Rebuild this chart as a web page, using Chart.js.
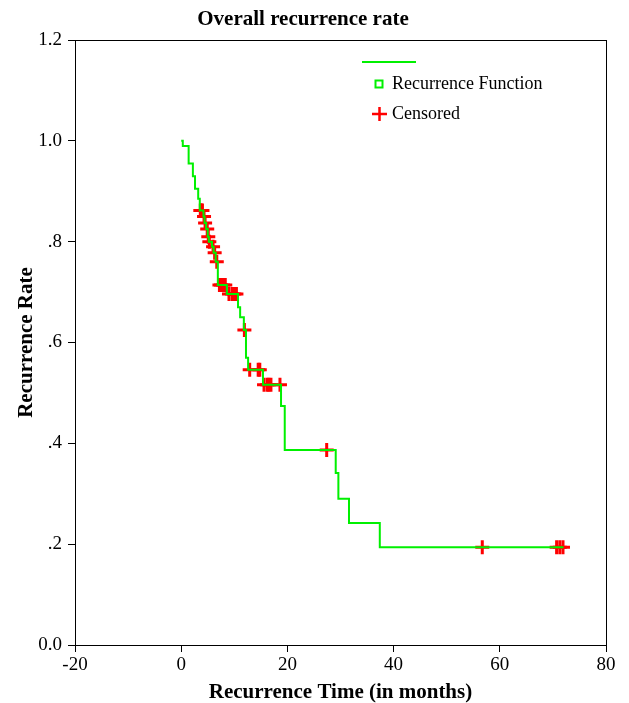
<!DOCTYPE html>
<html>
<head>
<meta charset="utf-8">
<script src="https://cdn.jsdelivr.net/npm/chart.js@4"></script>
<style>
  html, body { margin: 0; padding: 0; background: #fff; }
  #wrap { width: 629px; height: 703px; }
</style>
</head>
<body>
<div id="wrap"><canvas id="chart" width="629" height="703"></canvas></div>
<script>
// step function (time in months, rate after the step)
const stepTimes = [0, 0.3, 1.4, 2.2, 2.6, 3.2, 3.5, 4.2, 4.4, 4.7, 5.0, 5.2, 5.8, 6.1, 6.5, 6.9, 8.6,
    10.7, 11.1, 11.8, 12.2, 12.6, 15.4, 18.8, 19.5, 29.1, 29.6, 31.6, 37.4, 72.0];
const stepRates = [1.0, 0.99, 0.955, 0.93, 0.905, 0.885, 0.862, 0.85, 0.837, 0.825, 0.81, 0.80, 0.79, 0.778, 0.76, 0.714, 0.696,
    0.67, 0.65, 0.625, 0.57, 0.546, 0.516, 0.474, 0.387, 0.341, 0.29, 0.242, 0.194, 0.194];

// censored observations
const censTimes = [3.6, 3.8, 4.0, 4.3, 4.5, 4.9, 5.1, 5.3, 6.0, 6.3, 6.7, 7.2, 7.5, 7.9, 8.3,
    9.0, 9.6, 10.0, 10.4, 11.9, 12.9, 14.5, 14.8, 15.6, 16.2, 16.5, 16.9, 18.6, 27.4, 56.7, 70.7, 71.3, 71.9];
const censRates = [0.862, 0.862, 0.862, 0.85, 0.837, 0.825, 0.81, 0.80, 0.79, 0.778, 0.76, 0.714, 0.714, 0.714, 0.714,
    0.696, 0.696, 0.696, 0.696, 0.625, 0.546, 0.546, 0.546, 0.516, 0.516, 0.516, 0.516, 0.516, 0.387, 0.194, 0.194, 0.194, 0.194];

const xTicks = [-20, 0, 20, 40, 60, 80];
const yTickLabels = {0: '0.0', 0.2: '.2', 0.4: '.4', 0.6: '.6', 0.8: '.8', 1: '1.0', 1.2: '1.2'};

const serif = "'Liberation Serif', 'Times New Roman', serif";
const green = 'rgb(0, 240, 0)';
const red = 'rgb(255, 0, 0)';

let stepData = [];
for (let i = 0; i < stepTimes.length; i++) {
    stepData.push({x: stepTimes[i], y: stepRates[i]});
}
let censData = [];
for (let i = 0; i < censTimes.length; i++) {
    censData.push({x: censTimes[i], y: censRates[i]});
}

// frame around plot + hand drawn legend
const framePlugin = {
    id: 'frame',
    afterDraw(chart) {
        const ctx = chart.ctx;
        const a = chart.chartArea;
        ctx.save();
        ctx.strokeStyle = '#000';
        ctx.lineWidth = 1;
        ctx.strokeRect(a.left + 0.5, a.top + 0.5, a.right - a.left, a.bottom - a.top);

        ctx.strokeStyle = green;
        ctx.lineWidth = 2;
        ctx.beginPath();
        ctx.moveTo(362, 62);
        ctx.lineTo(416, 62);
        ctx.stroke();
        ctx.strokeRect(375.5, 80.5, 7, 7);

        ctx.strokeStyle = red;
        ctx.lineWidth = 2.5;
        ctx.beginPath();
        ctx.moveTo(372, 114);
        ctx.lineTo(387, 114);
        ctx.moveTo(379.5, 107);
        ctx.lineTo(379.5, 121);
        ctx.stroke();

        ctx.fillStyle = '#000';
        ctx.font = '18px ' + serif;
        ctx.textBaseline = 'middle';
        ctx.fillText('Recurrence Function', 392, 84);
        ctx.fillText('Censored', 392, 114);
        ctx.restore();
    }
};

const ctx = document.getElementById('chart').getContext('2d');
const chart = new Chart(ctx, {
    type: 'scatter',
    data: {
        datasets: [{
            label: 'Recurrence Function',
            data: stepData,
            showLine: true,
            stepped: true,
            borderColor: green,
            borderWidth: 2,
            pointRadius: 0,
            fill: false
        }, {
            label: 'Censored',
            data: censData,
            showLine: false,
            pointStyle: 'cross',
            pointRadius: 7,
            borderWidth: 3,
            pointBorderWidth: 3,
            borderColor: red,
            backgroundColor: red,
            pointBorderColor: red
        }]
    },
    options: {
        responsive: false,
        animation: false,
        layout: { padding: { left: 0, right: 23, top: 0, bottom: 0 } },
        plugins: {
            legend: { display: false },
            tooltip: { enabled: false },
            title: {
                display: true,
                text: 'Overall recurrence rate',
                color: '#000',
                font: { family: serif, size: 21, weight: 'bold', lineHeight: 1.2 },
                padding: { top: 7, bottom: 7.8 }
            }
        },
        scales: {
            x: {
                type: 'linear',
                min: -20,
                max: 80,
                afterBuildTicks: (scale) => { scale.ticks = xTicks.map(v => ({value: v})); },
                afterFit: (scale) => { scale.height = 58; },
                ticks: {
                    color: '#000',
                    padding: 2,
                    maxRotation: 0,
                    font: { family: serif, size: 19 }
                },
                grid: { drawOnChartArea: false, drawTicks: true, tickLength: 7, color: '#000' },
                border: { display: true, color: '#000' },
                title: {
                    display: true,
                    text: 'Recurrence Time (in months)',
                    color: '#000',
                    font: { family: serif, size: 21, weight: 'bold', lineHeight: 1 },
                    padding: { top: 0, bottom: 0 }
                }
            },
            y: {
                min: 0,
                max: 1.2,
                ticks: {
                    stepSize: 0.2,
                    color: '#000',
                    padding: 6,
                    font: { family: serif, size: 19 },
                    callback: (v) => yTickLabels[Math.round(v * 10) / 10]
                },
                afterFit: (scale) => { scale.width = 75; },
                grid: { drawOnChartArea: false, drawTicks: true, tickLength: 7, color: '#000' },
                border: { display: true, color: '#000' },
                title: {
                    display: true,
                    text: 'Recurrence Rate',
                    color: '#000',
                    font: { family: serif, size: 21, weight: 'bold', lineHeight: 1 },
                    padding: { top: 16, bottom: 0 }
                }
            }
        }
    },
    plugins: [framePlugin]
});
</script>
</body>
</html>
